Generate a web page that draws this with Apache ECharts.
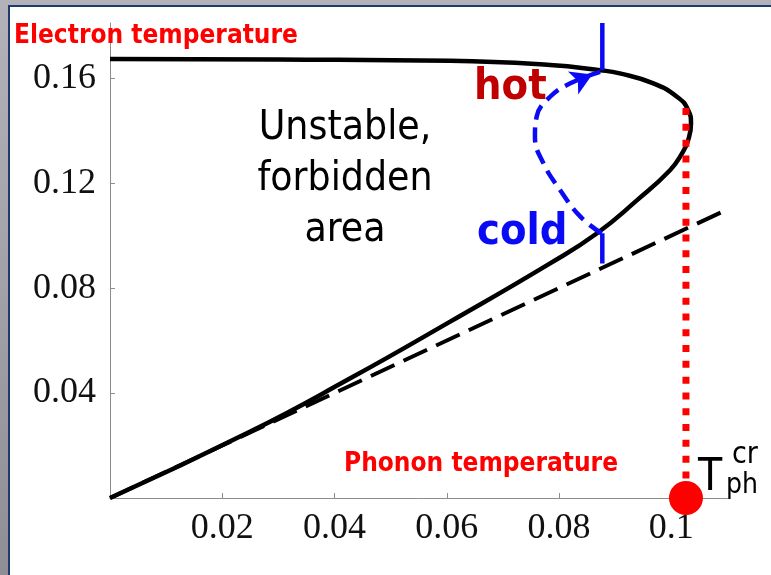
<!DOCTYPE html>
<html>
<head>
<meta charset="utf-8">
<script src="https://cdn.jsdelivr.net/npm/echarts@6/dist/echarts.min.js"></script>
<style>
  html, body { margin: 0; padding: 0; }
  #frame { position: relative; width: 771px; height: 575px; overflow: hidden;
           background: linear-gradient(180deg, #b3b2ba 0%, #a2a1a9 50%, #8f8e96 100%); }
  #panel { position: absolute; left: 8px; top: 5px; right: 0; bottom: 0; background: #fff;
           border-left: 2px solid #1d3a6b; border-top: 2px solid #1d3a6b; }
  #chart { position: absolute; left: 0; top: 0; width: 771px; height: 575px; }
</style>
</head>
<body>
<div id="frame"><div id="panel"></div><div id="chart"></div></div>
<script>
// Steady-state electron temperature vs phonon temperature (S-shaped branch)
const steadyBranch = [
  [0, 0], [0.025, 0.0253], [0.0428, 0.0456], [0.0606, 0.0672], [0.0784, 0.0894],
  [0.0867, 0.1008], [0.0939, 0.1135], [0.0998, 0.125],
  [0.1019, 0.1313], [0.103, 0.1364], [0.1035, 0.1427], [0.103, 0.1478],
  [0.101, 0.1529], [0.0968, 0.158], [0.0908, 0.1618], [0.0873, 0.163],
  [0.0784, 0.165], [0.0606, 0.1666], [0.03, 0.1671], [0, 0.1673]
];
// Te = Tph reference line
const equalTemp = [[0, 0], [0.11, 0.11]];
// Cold -> hot switching path
const switchPath = [
  [0.0876, 0.1008], [0.0838, 0.1072], [0.0802, 0.1173], [0.0772, 0.1276],
  [0.0757, 0.1376], [0.076, 0.1453], [0.0784, 0.1529], [0.082, 0.158], [0.0873, 0.1624]
];
const switchArrowTip = [[0.0876, 0.1629]];
const hotBar = [[0.0877, 0.163], [0.0877, 0.181]];
const coldBar = [[0.0877, 0.0894], [0.0877, 0.1009]];
// Critical phonon temperature
const criticalLine = [[0.1026, 0.1486], [0.1026, 0]];
const criticalPoint = [[0.1026, 0]];

const xTickValues = [0.02, 0.04, 0.06, 0.08, 0.1];
const xTickLabels = ['0.02', '0.04', '0.06', '0.08', '0.1'];
const yTickValues = [0.04, 0.08, 0.12, 0.16];
const yTickLabels = ['0.04', '0.08', '0.12', '0.16'];

const SANS = "Tahoma, 'DejaVu Sans Condensed', 'DejaVu Sans', sans-serif";
const SERIF = "'Liberation Serif', 'DejaVu Serif', serif";
const BLUE = '#0a0af5';

function labelFor(values, labels) {
  return v => {
    const i = values.findIndex(t => Math.abs(t - v) < 1e-9);
    return i >= 0 ? labels[i] : '';
  };
}

const chart = echarts.init(document.getElementById('chart'), null, { renderer: 'canvas' });

chart.setOption({
  backgroundColor: 'transparent',
  animation: false,
  grid: { left: 110, right: 43.5, top: 23, bottom: 77 },
  xAxis: {
    type: 'value', min: 0, max: 0.11, interval: 0.02,
    splitLine: { show: false },
    axisLine: { lineStyle: { color: '#8c8c8c', width: 1 } },
    axisTick: { inside: true, length: 5, customValues: xTickValues, lineStyle: { color: '#8c8c8c' } },
    axisLabel: { customValues: xTickValues, formatter: labelFor(xTickValues, xTickLabels),
                 fontFamily: SERIF, fontSize: 36, color: '#111', margin: 13 }
  },
  yAxis: {
    type: 'value', min: 0, max: 0.181, interval: 0.04,
    splitLine: { show: false },
    axisLine: { lineStyle: { color: '#8c8c8c', width: 1 } },
    axisTick: { inside: true, length: 5, customValues: yTickValues, lineStyle: { color: '#8c8c8c' } },
    axisLabel: { customValues: yTickValues, formatter: labelFor(yTickValues, yTickLabels),
                 fontFamily: SERIF, fontSize: 36, color: '#111', margin: 14 }
  },
  series: [
    { type: 'line', data: equalTemp, showSymbol: false, z: 2,
      lineStyle: { color: '#000', width: 4, type: [26, 10] } },
    { type: 'line', data: steadyBranch, showSymbol: false, smooth: 0.5, z: 3,
      lineStyle: { color: '#000', width: 4.5 } },
    { type: 'line', data: criticalLine, showSymbol: false, z: 4,
      lineStyle: { color: '#ff0000', width: 7, type: [7, 8.8] } },
    { type: 'line', data: switchPath, showSymbol: false, smooth: 0.45, z: 5,
      lineStyle: { color: BLUE, width: 4.5, type: [15, 8] } },
    { type: 'line', data: hotBar, showSymbol: false, z: 5, clip: false,
      lineStyle: { color: BLUE, width: 4.5 } },
    { type: 'line', data: coldBar, showSymbol: false, z: 5,
      lineStyle: { color: BLUE, width: 4.5 } },
    { type: 'scatter', data: switchArrowTip, symbol: 'arrow', symbolSize: [19, 21],
      symbolRotate: -66, symbolOffset: [-9.5, 4], z: 6,
      itemStyle: { color: BLUE, opacity: 1 } },
    { type: 'scatter', data: criticalPoint, symbol: 'circle', symbolSize: 34, clip: false, z: 7,
      itemStyle: { color: '#ff0000', opacity: 1 } }
  ],
  graphic: [
    { type: 'text', left: 14, top: 23, z: 10,
      style: { text: 'Electron temperature', fill: '#ff0000', fontFamily: SANS, fontWeight: 'bold', fontSize: 26 } },
    { type: 'text', left: 344, top: 451, z: 10,
      style: { text: 'Phonon temperature', fill: '#ff0000', fontFamily: SANS, fontWeight: 'bold', fontSize: 26 } },
    { type: 'text', left: 474, top: 66, z: 10,
      style: { text: 'hot', fill: '#c00000', fontFamily: SANS, fontWeight: 'bold', fontSize: 43 } },
    { type: 'text', left: 477, top: 211, z: 10,
      style: { text: 'cold', fill: BLUE, fontFamily: SANS, fontWeight: 'bold', fontSize: 43 } },
    { type: 'text', x: 345, y: 103, z: 10,
      style: { text: 'Unstable,\nforbidden\narea', fill: '#000', fontFamily: SANS, fontSize: 40.5,
               lineHeight: 51, align: 'center', verticalAlign: 'top' } },
    { type: 'text', left: 698, top: 457, z: 10,
      style: { text: 'T', fill: '#000', fontFamily: SANS, fontSize: 44 } },
    { type: 'text', left: 732, top: 440, z: 10,
      style: { text: 'cr', fill: '#000', fontFamily: SANS, fontSize: 30 } },
    { type: 'text', left: 726, top: 472, z: 10,
      style: { text: 'ph', fill: '#000', fontFamily: SANS, fontSize: 28 } }
  ]
});
</script>
</body>
</html>
